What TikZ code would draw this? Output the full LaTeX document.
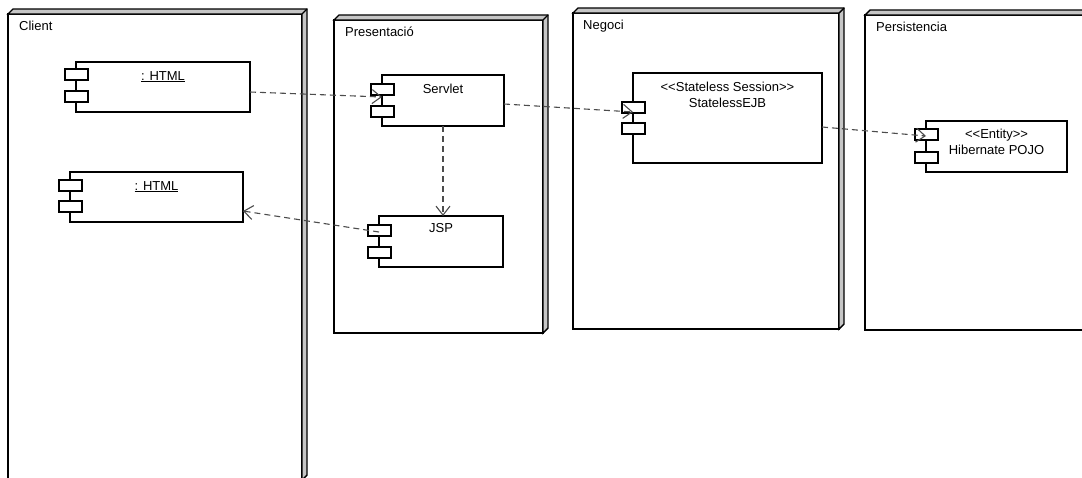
\documentclass[tikz,border=0pt]{standalone}
\usepackage{fontspec}
\setmainfont{Liberation Sans}
\usetikzlibrary{calc,arrows.meta}
\tikzset{
  frame/.style={draw, line width=1.4pt, fill=white, rectangle, inner sep=0pt, outer sep=0pt},
  face/.style={draw, line width=1.4pt, fill=gray!45, line join=miter},
  comp/.style={draw, line width=1.4pt, fill=white, rectangle, inner sep=0pt, outer sep=0pt},
  port/.style={draw, line width=1.4pt, fill=white},
  txt/.style={font=\fontsize{13}{15.5}\selectfont, inner sep=0pt, align=center},
  dep/.style={draw=black!70, line width=1.1pt, dash pattern=on 6pt off 4pt, -{Straight Barb[length=9pt,width=14pt,line width=1.1pt]}},
}
\newcommand\boxdepth[1]{%
  \filldraw[face] (#1.north west) -- ++(5,-5) -- ($(#1.north east)+(5,-5)$) -- ($(#1.south east)+(5,-5)$) -- (#1.south east) -- (#1.north east) -- cycle;
  \draw[line width=1.4pt] (#1.north east) -- ++(5,-5);}
\newcommand\compports[3]{%
  \draw[port] ($(#1.north west)+(-11,#2)$) rectangle ++(23,11);
  \draw[port] ($(#1.north west)+(-11,#3)$) rectangle ++(23,11);}
\begin{document}
\begin{tikzpicture}[x=1pt,y=-1pt]
\useasboundingbox (0,0) rectangle (1082,477);
\clip (0,0) rectangle (1082,477);
\fill[white] (0,0) rectangle (1082,477);
% execution environments
\node[frame, minimum width=294pt, minimum height=466pt,
  label={[txt,anchor=north west,xshift=11pt,yshift=-7pt]north west:Client}] (client) at (155,247) {};
\boxdepth{client}
\node[frame, minimum width=209pt, minimum height=313pt,
  label={[txt,anchor=north west,xshift=11pt,yshift=-7pt]north west:Presentació}] (pres) at (438.5,176.5) {};
\boxdepth{pres}
\node[frame, minimum width=266pt, minimum height=316pt,
  label={[txt,anchor=north west,xshift=10pt,yshift=-7pt]north west:Negoci}] (neg) at (706,171) {};
\boxdepth{neg}
\node[frame, minimum width=225pt, minimum height=315pt,
  label={[txt,anchor=north west,xshift=11pt,yshift=-7pt]north west:Persistencia}] (pers) at (977.5,172.5) {};
\boxdepth{pers}
% components
\node[comp, minimum width=174pt, minimum height=50pt,
  label={[txt,anchor=north,yshift=-9pt]north:\underline{: HTML}}] (html1) at (163,87) {};
\compports{html1}{7}{29}
\node[comp, minimum width=173pt, minimum height=50pt,
  label={[txt,anchor=north,yshift=-9pt]north:\underline{: HTML}}] (html2) at (156.5,197) {};
\compports{html2}{8}{29}
\node[comp, minimum width=122pt, minimum height=51pt,
  label={[txt,anchor=north,yshift=-9pt]north:Servlet}] (servlet) at (443,100.5) {};
\compports{servlet}{9}{31}
\node[comp, minimum width=124pt, minimum height=51pt,
  label={[txt,anchor=north,yshift=-7pt]north:JSP}] (jsp) at (441,241.5) {};
\compports{jsp}{9}{31}
\node[comp, minimum width=189pt, minimum height=90pt,
  label={[txt,anchor=north,yshift=-9pt]north:<{}<Stateless Session>{}>\\StatelessEJB}] (ejb) at (727.5,118) {};
\compports{ejb}{29}{50}
\node[comp, minimum width=141pt, minimum height=51pt,
  label={[txt,anchor=north,yshift=-8pt]north:<{}<Entity>{}>\\Hibernate POJO}] (hib) at (996.5,146.5) {};
\compports{hib}{8}{31}
% dependencies
\draw[dep] ($(html1.east)+(0,5)$) -- ($(servlet.west)+(0,-3.5)$);
\draw[dep] ($(servlet.east)+(0,3.5)$) -- ($(ejb.west)+(0,-6)$);
\draw[dep] ($(ejb.east)+(0,9)$) -- ($(hib.west)+(0,-10.5)$);
\draw[dep] (servlet.south) -- (servlet.south |- jsp.north);
\draw[dep] ($(jsp.west)+(0,-9.5)$) -- ($(html2.east)+(0,14)$);
\end{tikzpicture}
\end{document}
